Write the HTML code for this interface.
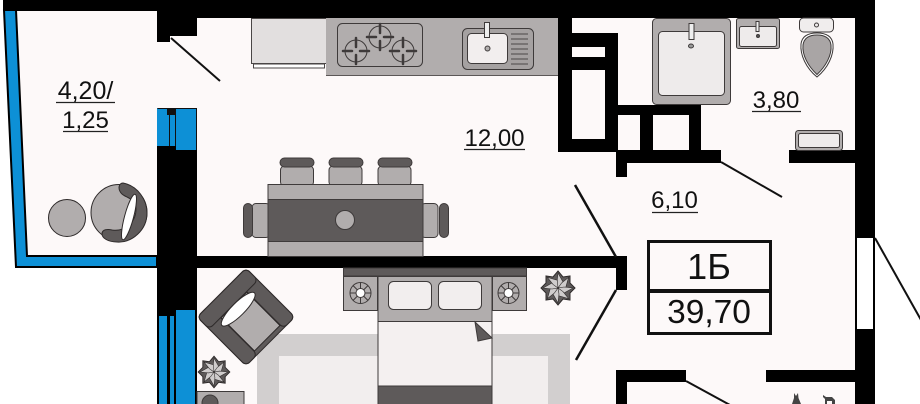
<!DOCTYPE html>
<html>
<head>
<meta charset="utf-8">
<style>
html,body{margin:0;padding:0;background:#fff;width:920px;height:404px;overflow:hidden}
svg{display:block}
text{font-family:"Liberation Sans",sans-serif;fill:#111}
</style>
</head>
<body>
<svg width="920" height="404" viewBox="0 0 920 404" xmlns="http://www.w3.org/2000/svg">
<defs>
<g id="flower">
<polygon points="0,-17 5,-11 12,-12 12,-5 17,0 12,5 12,12 5,11 0,17 -5,11 -12,12 -12,5 -17,0 -12,-5 -12,-12 -5,-11" fill="#5e5a5a" stroke="#2e2a2a"/>
<g fill="#cfcccc" stroke="#2e2a2a" stroke-width=".6">
<path id="pt" d="M0 0L5 -6L0 -15L-1 -6Z"/>
<path d="M0 0L5 -6L0 -15L-1 -6Z" transform="rotate(45)"/>
<path d="M0 0L5 -6L0 -15L-1 -6Z" transform="rotate(90)"/>
<path d="M0 0L5 -6L0 -15L-1 -6Z" transform="rotate(135)"/>
<path d="M0 0L5 -6L0 -15L-1 -6Z" transform="rotate(180)"/>
<path d="M0 0L5 -6L0 -15L-1 -6Z" transform="rotate(225)"/>
<path d="M0 0L5 -6L0 -15L-1 -6Z" transform="rotate(270)"/>
<path d="M0 0L5 -6L0 -15L-1 -6Z" transform="rotate(315)"/>
</g>
</g>
<g id="burner">
<circle r="11" fill="#b1adad" stroke="#3e3a3a"/>
<path d="M-13 0H-4M4 0H13M0 -13V-4M0 4V13" stroke="#3e3a3a" stroke-width="2.500" stroke-linecap="round" fill="none"/>
</g>
<g id="lamp">
<circle r="10.500" fill="#b1adad" stroke="#3e3a3a"/>
<path d="M-10.500 0H10.500M0 -10.500V10.500M-7.400 -7.400L7.400 7.400M7.400 -7.400L-7.400 7.400" stroke="#3e3a3a" fill="none"/>
<circle r="4.500" fill="#fff" stroke="#3e3a3a"/>
</g>
</defs>
<rect width="920" height="404" fill="#fff"/>
<!-- floors -->
<polygon points="16,11 160,11 160,257 27,257" fill="#fdf9f9"/>
<rect x="157" y="10" width="703" height="394" fill="#fdf9f9"/>
<!-- balcony glazing -->
<polygon points="4,10 16,10 27,256 157,256 157,267 16,267" fill="#0d90d6" stroke="#000" stroke-width="2"/>
<rect x="157" y="108" width="40" height="44" fill="#0d90d6"/>
<path d="M157.500 108.500H196.500V152M169.500 108V147M175.500 108V147" fill="none" stroke="#111" stroke-width="1"/>
<rect x="167" y="108" width="9" height="7" fill="#111"/>
<rect x="157" y="146" width="19" height="8" fill="#000"/>
<!-- lower window -->
<rect x="157" y="310" width="40" height="94" fill="#000"/>
<rect x="159" y="316" width="8" height="88" fill="#0d90d6"/>
<rect x="170" y="316" width="4" height="88" fill="#0d90d6"/>
<rect x="176" y="310" width="19" height="94" fill="#0d90d6"/>
<!-- rug -->
<rect x="257" y="334" width="313" height="70" fill="#d2cfcf"/>
<rect x="279" y="356" width="269" height="48" fill="#f2eeee"/>
<!-- walls -->
<g fill="#000">
<rect x="3" y="0" width="872" height="11"/>
<rect x="157" y="0" width="718" height="18"/>
<rect x="157" y="18" width="40" height="18"/>
<rect x="157" y="36" width="13" height="6"/>
<rect x="157" y="150" width="40" height="160"/>
<rect x="197" y="256" width="430" height="12"/>
<rect x="616" y="256" width="11" height="34"/>
<rect x="558" y="18" width="14" height="134"/>
<rect x="572" y="33" width="46" height="14"/>
<rect x="572" y="57" width="46" height="13"/>
<rect x="605" y="33" width="13" height="119"/>
<rect x="558" y="139" width="60" height="13"/>
<rect x="618" y="105" width="83" height="10"/>
<rect x="640" y="105" width="13" height="46"/>
<rect x="689" y="105" width="12" height="46"/>
<rect x="616" y="150" width="105" height="13"/>
<rect x="616" y="150" width="11" height="27"/>
<rect x="789" y="150" width="66" height="13"/>
<rect x="855" y="0" width="20" height="237"/>
<rect x="855" y="330" width="20" height="74"/>
<rect x="616" y="370" width="70" height="12"/>
<rect x="616" y="370" width="11" height="34"/>
<rect x="766" y="370" width="90" height="12"/>
</g>
<rect x="856" y="237" width="18" height="93" fill="#fff" stroke="#000" stroke-width="2"/>
<!-- doors -->
<g stroke="#111" stroke-width="2" fill="none">
<path d="M171 38L220 81"/>
<path d="M721 162L782 197"/>
<path d="M616 257L575 185" stroke-width="2.500"/>
<path d="M616 290L576 360" stroke-width="2.500"/>
<path d="M875 238L921 320"/>
<path d="M686 381L730 405"/>
</g>
<!-- kitchen -->
<rect x="251.500" y="18.500" width="75" height="45" fill="#e2dfdf" stroke="#4a4646"/>
<rect x="253.500" y="64" width="71" height="4" fill="#fff" stroke="#4a4646"/>
<rect x="326" y="18" width="232" height="57" fill="#b1adad"/>
<path d="M326 75.500H558" stroke="#5b5757"/>
<rect x="337.500" y="23.500" width="85" height="43" rx="5" fill="#b1adad" stroke="#3e3a3a"/>
<use href="#burner" x="356" y="51"/>
<use href="#burner" x="380" y="37"/>
<use href="#burner" x="403" y="51"/>
<rect x="462.500" y="28.500" width="71" height="41" rx="5" fill="#a5a1a1" stroke="#3e3a3a"/>
<rect x="467.500" y="33.500" width="40" height="30" rx="4" fill="#f2eeee" stroke="#3e3a3a"/>
<path d="M511 34h17M511 39h17M511 44h17M511 49h17M511 54h17M511 59h17M511 64h17" stroke="#4a4646"/>
<rect x="484.500" y="22.500" width="5" height="15" fill="#eee" stroke="#3e3a3a"/>
<circle cx="487.500" cy="48.500" r="2.500" fill="#b1adad" stroke="#3e3a3a"/>
<!-- dining -->
<g stroke="#3e3a3a" stroke-width="1">
<rect x="280.500" y="166" width="33" height="20" rx="4" fill="#b1adad"/>
<rect x="329" y="166" width="33" height="20" rx="4" fill="#b1adad"/>
<rect x="378" y="166" width="33" height="20" rx="4" fill="#b1adad"/>
<rect x="280" y="158" width="34" height="9" rx="4.500" fill="#5e5a5a"/>
<rect x="329" y="158" width="34" height="9" rx="4.500" fill="#5e5a5a"/>
<rect x="378" y="158" width="34" height="9" rx="4.500" fill="#5e5a5a"/>
<rect x="252" y="203.500" width="18" height="34" rx="4" fill="#b1adad"/>
<rect x="243.500" y="203.500" width="9" height="34" rx="4.500" fill="#5e5a5a"/>
<rect x="421" y="203.500" width="17" height="34" rx="4" fill="#b1adad"/>
<rect x="439.500" y="203.500" width="9" height="34" rx="4.500" fill="#5e5a5a"/>
<rect x="268" y="184.500" width="155" height="72" fill="#b1adad"/>
<rect x="268" y="199.500" width="155" height="42" fill="#5e5a5a"/>
<circle cx="345" cy="220" r="9.500" fill="#b1adad"/>
</g>
<!-- balcony furniture -->
<g stroke="#2e2a2a" stroke-width="1">
<circle cx="67" cy="218" r="18.500" fill="#b1adad"/>
<circle cx="119" cy="212.500" r="28" fill="#b1adad"/>
<path d="M123 183C138 186 147 200 147 213C147 230 132 243 117 242C108 242 102 238 102 234C102 229 108 229 112 230C125 232 136 222 136 209C136 198 126 198 122 194C117 189 119 183 123 183Z" fill="#5e5a5a"/>
<ellipse cx="129" cy="217" rx="4.500" ry="23.500" transform="rotate(15 129 217)" fill="#fff"/>
</g>
<!-- armchair -->
<g transform="translate(246 317) rotate(45)" stroke="#2e2a2a" stroke-width="1">
<rect x="-34.500" y="-34.500" width="69" height="69" rx="5" fill="#5e5a5a"/>
<rect x="-17" y="-18" width="47" height="36" fill="#b1adad"/>
<rect x="-34.500" y="-34.500" width="69" height="16" rx="5" fill="#5e5a5a"/>
<rect x="-34.500" y="18.500" width="69" height="16" rx="5" fill="#5e5a5a"/>
<rect x="-34.500" y="-34.500" width="17" height="69" rx="5" fill="#5e5a5a"/>
<ellipse cx="-11" cy="0" rx="6.500" ry="23" fill="#fff"/>
</g>
<!-- flowers -->
<use href="#flower" transform="translate(214 372) scale(.93)"/>
<use href="#flower" transform="translate(558 288)"/>
<!-- side table lower left -->
<rect x="197" y="391.500" width="47" height="14" fill="#b1adad" stroke="#3e3a3a"/>
<circle cx="210" cy="403" r="8" fill="#5e5a5a" stroke="#3e3a3a"/>
<!-- bed -->
<g stroke="#3e3a3a" stroke-width="1">
<rect x="343.500" y="268" width="183" height="8" fill="#5e5a5a"/>
<rect x="343.500" y="276.500" width="34" height="34" fill="#b1adad"/>
<rect x="492.500" y="276.500" width="34" height="34" fill="#b1adad"/>
<rect x="378" y="276.500" width="114" height="46" fill="#b1adad"/>
<rect x="388.500" y="281.500" width="43" height="28" rx="5" fill="#f2eeee"/>
<rect x="438.500" y="281.500" width="43" height="28" rx="5" fill="#f2eeee"/>
<rect x="378" y="321.500" width="114" height="65" fill="#f4f0f0"/>
<rect x="378" y="386" width="114" height="20" fill="#5e5a5a"/>
<polygon points="475,322 492,338 478,341" fill="#5e5a5a"/>
</g>
<use href="#lamp" x="360.500" y="293"/>
<use href="#lamp" x="508.500" y="293"/>
<!-- bathroom -->
<g stroke="#3e3a3a" stroke-width="1">
<rect x="652.500" y="18.500" width="78" height="86" rx="4" fill="#b1adad"/>
<rect x="658.500" y="31.500" width="66" height="64" rx="4" fill="#eeebeb"/>
<rect x="689" y="23.500" width="5" height="16" fill="#eee"/>
<ellipse cx="691" cy="46" rx="2.500" ry="2" fill="#999"/>
<rect x="736.500" y="18.500" width="43" height="30" rx="2" fill="#b1adad"/>
<rect x="739.500" y="26.500" width="37" height="20" rx="2" fill="#eeebeb"/>
<rect x="756" y="21.500" width="3" height="10" fill="#eee"/>
<circle cx="758" cy="36" r="1.500" fill="#555"/>
<rect x="799.500" y="18" width="34" height="14" rx="4" fill="#f0eded"/>
<circle cx="816.500" cy="25" r="2" fill="#f0eded"/>
<path d="M817 77C806 68 800 55 801 44C802 36 808 33 817 33C826 33 832 36 833 44C834 55 828 68 817 77Z" fill="#fff"/>
<path d="M817 74.500C808 66 802 55 803 45C804 38 809 35 817 35C825 35 830 38 831 45C832 55 826 66 817 74.500Z" fill="#a9a5a5"/>
<rect x="795.500" y="130.500" width="47" height="20" rx="3" fill="#b1adad"/>
<rect x="798.500" y="133.500" width="41" height="14" rx="2" fill="#eeebeb"/>
</g>
<!-- small figures -->
<path d="M794 393L796 396L798 393L798.500 398L801 404H792L794 398Z" fill="#444"/>
<path d="M823 395l3 2h6l3 3v4h-3v-3h-5v3h-2v-5l-2-2Z" fill="#444"/>
<!-- labels -->
<g font-size="24" text-anchor="middle">
<text x="85.500" y="99" font-size="25">4,20/</text>
<text x="85.500" y="128">1,25</text>
<text x="494.500" y="146">12,00</text>
<text x="674.500" y="208">6,10</text>
<text x="776" y="108">3,80</text>
</g>
<g stroke="#222" stroke-width="1.200">
<path d="M56 102.500H115M63 131.500H108M464 149.500H525M652 212.500H698M752 111.500H801"/>
</g>
<!-- summary box -->
<rect x="648.500" y="241.500" width="122" height="92" fill="none" stroke="#111" stroke-width="3"/>
<path d="M648 291H771" stroke="#111" stroke-width="4"/>
<text x="709" y="279" font-size="36" text-anchor="middle">1Б</text>
<text x="709" y="323" font-size="33.500" text-anchor="middle">39,70</text>
</svg>
</body>
</html>
